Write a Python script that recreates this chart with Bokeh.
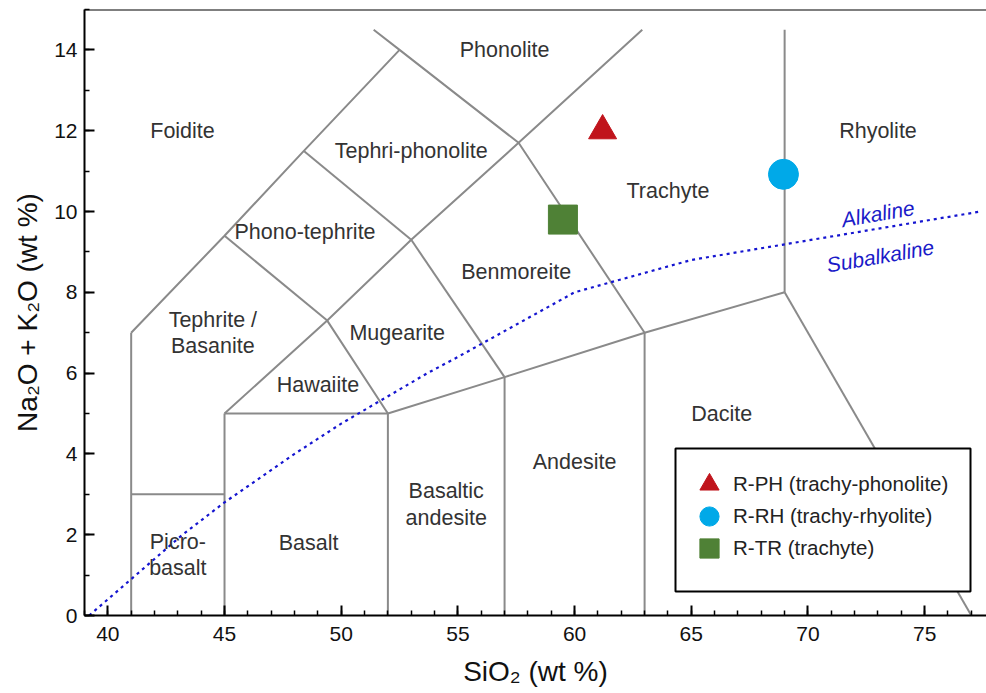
from bokeh.plotting import figure
from bokeh.models import Range1d, Legend, LegendItem, Span, FixedTicker, BoxAnnotation
from bokeh.core.properties import value
from bokeh.embed import file_html
from bokeh.resources import INLINE

FONT = "Liberation Sans"

# ---------------- data ----------------
# TAS field boundaries (SiO2 wt %, Na2O+K2O wt %)
boundary_xs = [
    [41, 41], [41, 45], [45, 45], [45, 52], [52, 52], [57, 57], [63, 63],
    [52, 57, 63, 69], [69, 77.0], [69, 69],
    [45, 49.4, 52], [41, 45, 48.4, 52.5], [45, 49.4],
    [49.4, 53, 57.6, 62.9], [48.4, 53], [53, 57],
    [51.39, 52.5, 57.6, 63],
]
boundary_ys = [
    [0, 7], [3, 3], [0, 5], [5, 5], [0, 5], [0, 5.9], [0, 7],
    [5, 5.9, 7, 8], [8, 0], [8, 14.5],
    [5, 7.3, 5], [7, 9.4, 11.5, 14], [9.4, 7.3],
    [7.3, 9.3, 11.7, 14.5], [11.5, 9.3], [9.3, 5.9],
    [14.5, 14, 11.7, 7],
]

# Alkaline / subalkaline divide
alk_x = [39.2, 40, 43.2, 45, 48, 50, 53.7, 55, 60, 65, 77.4]
alk_y = [0, 0.4, 2, 2.8, 4, 4.75, 6, 6.4, 8, 8.8, 10]

# field names
field_names = ["Foidite", "Phonolite", "Tephri-phonolite", "Phono-tephrite",
               "Tephrite /\nBasanite", "Hawaiite", "Mugearite", "Benmoreite",
               "Trachyte", "Rhyolite", "Dacite", "Andesite",
               "Basaltic\nandesite", "Basalt", "Picro-\nbasalt"]
field_x = [43.2, 57.0, 53.0, 48.45, 44.5, 49.0, 52.4, 57.5,
           64.0, 73.0, 66.3, 60.0, 54.5, 48.6, 43.0]
field_y = [12.0, 14.0, 11.5, 9.5, 7.0, 5.7, 7.0, 8.5,
           10.5, 12.0, 5.0, 3.8, 2.75, 1.8, 1.5]

series_names = ["Alkaline", "Subalkaline"]
series_x = [73.0, 73.1]
series_y = [9.95, 8.9]

# samples
sample_names = ["R-PH (trachy-phonolite)", "R-RH (trachy-rhyolite)", "R-TR (trachyte)"]
sample_sio2 = [61.2, 68.95, 59.5]
sample_alk = [12.0, 10.92, 9.8]

x_ticks = [40, 45, 50, 55, 60, 65, 70, 75]
y_ticks = [0, 2, 4, 6, 8, 10, 12, 14]

# ---------------- figure ----------------
p = figure(width=986, height=693, output_backend="svg", toolbar_location=None,
           x_range=Range1d(39, 77.65), y_range=Range1d(0, 15),
           min_border_left=84, min_border_right=0, min_border_top=9,
           min_border_bottom=78)
p.outline_line_color = None
p.grid.visible = False
p.background_fill_color = "white"
p.border_fill_color = "white"

p.multi_line(xs=boundary_xs, ys=boundary_ys, line_color="#8a8a8a", line_width=2)
p.line(alk_x, alk_y, line_color="#1515d0", line_width=2.2, line_dash="3 4")

p.text(x=field_x, y=field_y, text=field_names, text_align="center",
       text_baseline="middle", text_font=value(FONT), text_font_size="21.5px",
       text_color="#333333", text_line_height=1.1)

p.text(x=series_x, y=series_y, text=series_names, text_align="center",
       text_baseline="middle", text_font=value(FONT), text_font_size="21px",
       text_font_style="italic", text_color="#1a1ac8", angle=0.17)

r1 = p.scatter([sample_sio2[0]], [sample_alk[0]], marker="triangle", size=28,
               fill_color="#c0141c", line_color="#c0141c")
r2 = p.scatter([sample_sio2[1]], [sample_alk[1]], marker="circle", size=30,
               fill_color="#00a9e8", line_color="#00a9e8")
r3 = p.scatter([sample_sio2[2]], [sample_alk[2]], marker="square", size=29,
               fill_color="#4f8136", line_color="#4f8136")

# top border
p.add_layout(Span(location=15, dimension="width", line_color="black", line_width=2))

# axes
for ax in (p.xaxis[0], p.yaxis[0]):
    ax.axis_line_width = 2
    ax.axis_line_color = "black"
    ax.major_tick_in = 10
    ax.major_tick_out = 0
    ax.minor_tick_in = 5
    ax.minor_tick_out = 0
    ax.major_tick_line_width = 2
    ax.minor_tick_line_width = 1.5
    ax.major_tick_line_color = "black"
    ax.minor_tick_line_color = "black"
    ax.major_label_text_font = FONT
    ax.major_label_text_font_size = "21px"
    ax.major_label_text_color = "#111111"
    ax.axis_label_text_font = FONT
    ax.axis_label_text_font_size = "28px"
    ax.axis_label_text_font_style = "normal"
    ax.axis_label_text_color = "#111111"

p.xaxis.ticker = FixedTicker(ticks=x_ticks, minor_ticks=list(range(39, 78)))
p.yaxis.ticker = FixedTicker(ticks=y_ticks, minor_ticks=list(range(0, 16)))
p.xaxis.axis_label = "SiO\u2082 (wt %)"
p.yaxis.axis_label = "Na\u2082O + K\u2082O (wt %)"
p.xaxis.major_label_standoff = 11
p.xaxis.axis_label_standoff = 12
p.yaxis.major_label_standoff = 7
p.yaxis.axis_label_standoff = 8

# legend frame (screen px, relative to the plot frame's bottom-left)
p.add_layout(BoxAnnotation(left=591, right=886, bottom=24, top=167,
                           left_units="screen", right_units="screen",
                           bottom_units="screen", top_units="screen",
                           fill_color="white", fill_alpha=1.0,
                           line_color="black", line_width=2, line_alpha=1.0,
                           level="annotation"))

renderers = [r1, r2, r3]
row_centers = [131, 99, 67]
g = 48
for name, r, c in zip(sample_names, renderers, row_centers):
    lg = Legend(items=[LegendItem(label=name, renderers=[r])],
                location=(625 - g // 2, c - g // 2), orientation="vertical",
                glyph_width=g, glyph_height=g, spacing=0, padding=0,
                label_standoff=-2, margin=0,
                label_text_font=FONT, label_text_font_size="20.5px",
                label_text_color="#222222",
                border_line_color=None, background_fill_alpha=0.0)
    p.add_layout(lg)

open("out.html", "w").write(file_html(p, INLINE))
